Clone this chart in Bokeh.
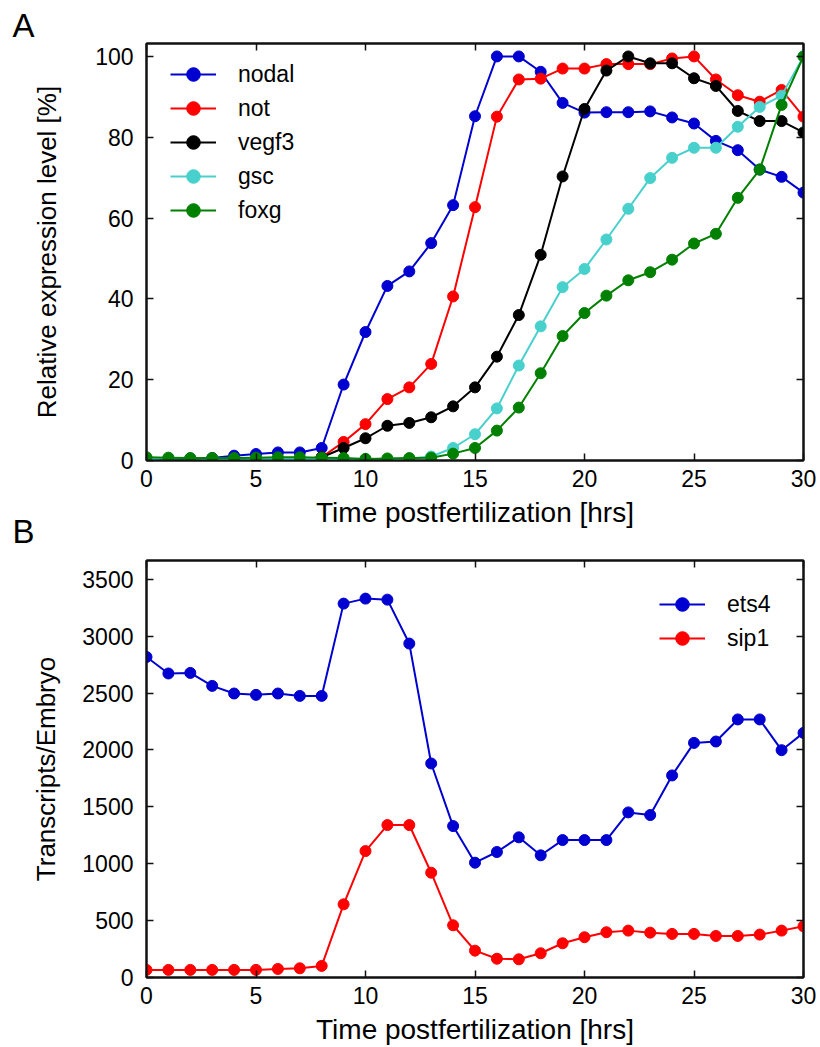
from bokeh.plotting import figure
from bokeh.models import Range1d, FixedTicker, LinearAxis, Legend, LegendItem, Title
from bokeh.layouts import column
from bokeh.embed import file_html
from bokeh.resources import INLINE

# ---------------- data ----------------
time_hrs = list(range(31))

nodal = [0.5, 0.5, 0.5, 0.6, 1.2, 1.6, 2.0, 2.0, 3.1, 18.8, 31.8, 43.2, 46.8, 53.8, 63.2, 85.2,
         100.0, 100.0, 96.2, 88.5, 86.1, 86.2, 86.2, 86.4, 84.9, 83.4, 79.1, 76.8, 72.0, 70.2, 66.3]
not_gene = [0.3, 0.3, 0.3, 0.3, 0.3, 0.3, 0.3, 0.3, 0.8, 4.6, 9.0, 15.2, 18.1, 23.9, 40.6, 62.7,
            85.1, 94.3, 94.5, 97.0, 97.0, 98.1, 98.1, 98.1, 99.5, 100.0, 94.3, 90.4, 88.8, 91.7, 85.1]
vegf3 = [0.3, 0.3, 0.3, 0.3, 0.3, 0.3, 0.3, 0.3, 0.8, 3.1, 5.5, 8.6, 9.3, 10.7, 13.4, 18.1,
         25.7, 36.0, 50.9, 70.3, 87.0, 96.5, 100.0, 98.3, 98.3, 94.6, 92.7, 86.5, 84.0, 84.0, 81.2]
gsc = [0.4, 0.5, 0.5, 0.4, 0.4, 0.4, 0.4, 0.4, 0.4, 0.4, 0.4, 0.4, 0.5, 1.0, 3.1, 6.5,
       12.9, 23.5, 33.2, 42.9, 47.4, 54.7, 62.3, 69.9, 74.9, 77.4, 77.4, 82.6, 87.5, 90.3, 100.0]
foxg = [0.8, 0.7, 0.6, 0.6, 0.6, 0.7, 0.8, 0.8, 0.7, 0.6, 0.4, 0.5, 0.6, 0.7, 1.7, 3.1,
        7.4, 13.1, 21.6, 30.8, 36.5, 40.8, 44.6, 46.6, 49.7, 53.7, 56.1, 65.0, 72.0, 88.0, 100.0]

ets4 = [2817, 2672, 2677, 2563, 2496, 2484, 2496, 2475, 2475, 3286, 3330, 3321, 2935, 1881, 1331, 1009,
        1103, 1232, 1074, 1208, 1208, 1208, 1451, 1428, 1776, 2062, 2074, 2268, 2268, 1998, 2150]
sip1 = [67, 67, 67, 67, 67, 67, 75, 81, 102, 643, 1111, 1340, 1340, 921, 459, 236,
        165, 160, 213, 301, 354, 398, 412, 394, 383, 383, 365, 365, 377, 412, 450]

x_ticks = [0, 5, 10, 15, 20, 25, 30]
a_y_ticks = [0, 20, 40, 60, 80, 100]
b_y_ticks = [0, 500, 1000, 1500, 2000, 2500, 3000, 3500]

series_a = [("nodal", nodal, "#0000d0"), ("not", not_gene, "#ff0000"), ("vegf3", vegf3, "#000000"),
            ("gsc", gsc, "#48d1cc"), ("foxg", foxg, "#008000")]
series_b = [("ets4", ets4, "#0000d0"), ("sip1", sip1, "#ff0000")]

FONT = "Liberation Sans"
TICK_FS = "23px"


def style_axis(ax, ticks, show_labels=True):
    ax.ticker = FixedTicker(ticks=ticks)
    ax.major_tick_in = 7
    ax.major_tick_out = 0
    ax.minor_tick_line_color = None
    ax.axis_line_color = "#111111"
    ax.axis_line_width = 2
    ax.major_tick_line_color = "#111111"
    ax.major_tick_line_width = 1.5
    ax.major_label_text_font = FONT
    if show_labels:
        ax.major_label_text_font_size = TICK_FS
        ax.major_label_text_color = "black"
    else:
        ax.major_label_text_font_size = "1px"
        ax.major_label_text_color = None
        ax.major_label_standoff = 0
    ax.axis_label_text_font = FONT
    ax.axis_label_text_font_style = "normal"
    ax.axis_label_text_color = "black"


def make_panel(series, y_max, y_ticks, ylabel, height, top, bottom, y_label_standoff,
               letter, letter_standoff, legend_loc):
    p = figure(width=820, height=height, output_backend="svg", toolbar_location=None,
               x_range=Range1d(0, 30), y_range=Range1d(0, y_max),
               min_border_left=146, min_border_right=17, min_border_top=top, min_border_bottom=bottom)
    p.xgrid.visible = False
    p.ygrid.visible = False
    p.outline_line_color = "#111111"
    p.outline_line_width = 2
    p.background_fill_color = "white"
    p.border_fill_alpha = 0

    items = []
    for name, vals, color in series:
        ln = p.line(time_hrs, vals, line_color=color, line_width=2)
        sc = p.scatter(time_hrs, vals, marker="circle", size=11, fill_color=color, line_color=color)
        items.append(LegendItem(label=name, renderers=[ln, sc]))

    xa = p.xaxis[0]
    style_axis(xa, x_ticks)
    xa.axis_label = "Time postfertilization [hrs]"
    xa.axis_label_text_font_size = "28px"
    xa.major_label_standoff = 9
    xa.axis_label_standoff = 7

    ya = p.yaxis[0]
    style_axis(ya, y_ticks)
    ya.axis_label = ylabel
    ya.axis_label_text_font_size = "26px"
    ya.major_label_standoff = 13
    ya.axis_label_standoff = y_label_standoff

    top_ax = LinearAxis()
    style_axis(top_ax, x_ticks, show_labels=False)
    p.add_layout(top_ax, "above")
    right_ax = LinearAxis()
    style_axis(right_ax, y_ticks, show_labels=False)
    p.add_layout(right_ax, "right")

    legend = Legend(items=items, location=legend_loc, orientation="vertical")
    legend.glyph_width = 46
    legend.glyph_height = 34
    legend.label_height = 34
    legend.spacing = 0
    legend.padding = 0
    legend.margin = 0
    legend.label_standoff = 22
    legend.label_text_font = FONT
    legend.label_text_font_size = "23px"
    legend.label_text_color = "black"
    legend.border_line_alpha = 0
    legend.background_fill_alpha = 0
    p.add_layout(legend, "center")

    p.add_layout(Title(text=letter, align="left", offset=-134, standoff=letter_standoff,
                       text_font=FONT, text_font_size="33px", text_font_style="normal",
                       text_color="black"), "above")
    return p


# panel A: page rows 0..534, frame 43..460
pa = make_panel(series_a, 103.2, a_y_ticks, "Relative expression level [%]", 534, 43, 74, 30,
                "A", 0, (24, 233))
# panel B: page rows 500..1047 (overlaps A by 34 px), frame 560..977
pb = make_panel(series_b, 3665, b_y_ticks, "Transcripts/Embryo", 547, 60, 70, 18,
                "B", 21, (513, 322))
pb.margin = (-34, 0, 0, 0)

layout = column(pa, pb, spacing=0)
open("out.html", "w").write(file_html(layout, INLINE))
